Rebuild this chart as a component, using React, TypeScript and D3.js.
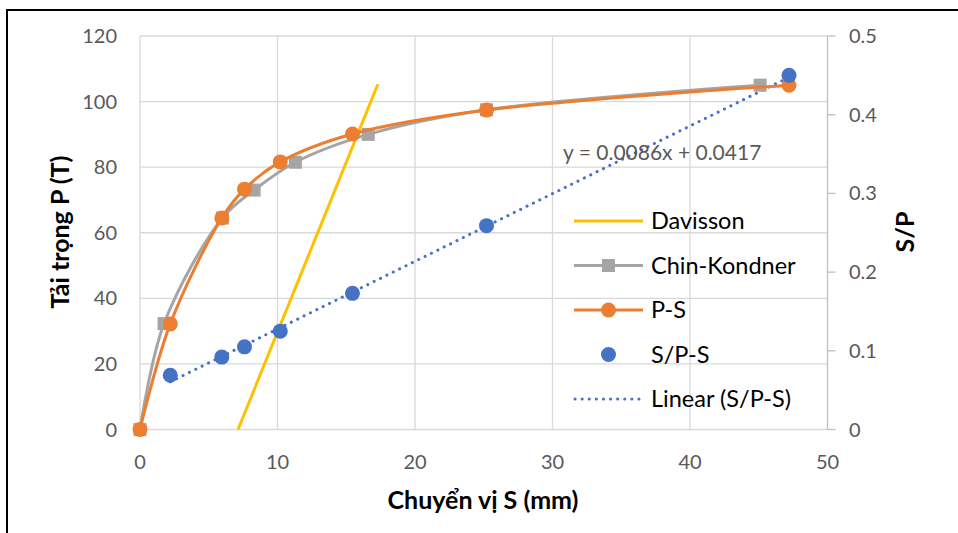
import React, { useEffect, useRef } from 'react';
import * as d3 from 'd3';

// P-S load test data (S in mm, P in T)
const psS = [0, 2.2, 5.95, 7.6, 10.2, 15.45, 25.2, 47.2];
const psP = [0, 32.2, 64.5, 73.3, 81.6, 90.1, 97.4, 105];

// Chin-Kondner fitted curve
const ckS = [0, 1.75, 6.0, 8.3, 11.3, 16.6, 25.2, 45.1];
const ckP = [0, 32.3, 64.5, 73.0, 81.5, 90.0, 97.5, 105];

// S/P vs S (right axis)
const spS = [2.2, 5.95, 7.6, 10.2, 15.45, 25.2, 47.2];
const spV = [0.069, 0.092, 0.105, 0.125, 0.173, 0.259, 0.45];

// Davisson line end points
const davS = [7.13, 17.3];
const davP = [0, 105.3];

// linear trend of S/P-S
const trendSlope = 0.0086;
const trendIntercept = 0.0417;
const trendLabel = 'y = 0.0086x + 0.0417';

const xTicks = [0, 10, 20, 30, 40, 50];
const yTicks = [0, 20, 40, 60, 80, 100, 120];
const y2Ticks = [0, 0.1, 0.2, 0.3, 0.4, 0.5];

const legendItems = ['Davisson', 'Chin-Kondner', 'P-S', 'S/P-S', 'Linear (S/P-S)'];

const FONT = 'Lato, "Open Sans", sans-serif';

const App = () => {
  const ref = useRef<SVGSVGElement>(null);

  useEffect(() => {
    document.body.style.margin = '0';
    const svg = d3.select(ref.current);
    svg.selectAll('*').remove();

    const x = d3.scaleLinear().domain([0, 50]).range([140, 827.5]);
    const y = d3.scaleLinear().domain([0, 120]).range([429.5, 36]);
    const y2 = d3.scaleLinear().domain([0, 0.5]).range([429.5, 36]);

    svg.append('rect').attr('width', 958).attr('height', 533).attr('fill', '#fff');

    // outer frame (top + left only visible)
    svg.append('line').attr('x1', 7).attr('x2', 958).attr('y1', 10).attr('y2', 10)
      .attr('stroke', '#000').attr('stroke-width', 2);
    svg.append('line').attr('x1', 7).attr('x2', 7).attr('y1', 9).attr('y2', 533)
      .attr('stroke', '#000').attr('stroke-width', 2);

    // grid
    const grid = svg.append('g').attr('stroke', '#d9d9d9').attr('stroke-width', 1.3);
    xTicks.slice(0, -1).forEach(t => {
      grid.append('line').attr('x1', x(t)).attr('x2', x(t)).attr('y1', y(120)).attr('y2', y(0));
    });
    yTicks.forEach(t => {
      grid.append('line').attr('x1', x(0)).attr('x2', x(50)).attr('y1', y(t)).attr('y2', y(t));
    });

    // right axis
    const ax = svg.append('g').attr('stroke', '#bfbfbf').attr('stroke-width', 1.3);
    ax.append('line').attr('x1', x(50)).attr('x2', x(50)).attr('y1', y2(0.5)).attr('y2', y2(0));
    y2Ticks.forEach(t => {
      ax.append('line').attr('x1', x(50)).attr('x2', x(50) + 8).attr('y1', y2(t)).attr('y2', y2(t));
    });

    const tickText = svg.append('g').attr('font-family', FONT).attr('font-size', 20).attr('fill', '#595959');
    yTicks.forEach(t => {
      tickText.append('text').attr('x', 117).attr('y', y(t)).attr('dy', '0.35em')
        .attr('text-anchor', 'end').text(t);
    });
    xTicks.forEach(t => {
      tickText.append('text').attr('x', x(t)).attr('y', 462).attr('dy', '0.35em')
        .attr('text-anchor', 'middle').text(t);
    });
    y2Ticks.forEach(t => {
      tickText.append('text').attr('x', 849).attr('y', y2(t)).attr('dy', '0.35em')
        .text(d3.format('~g')(t));
    });

    // Davisson line
    svg.append('line')
      .attr('x1', x(davS[0])).attr('y1', y(davP[0]))
      .attr('x2', x(davS[1])).attr('y2', y(davP[1]))
      .attr('stroke', '#ffc000').attr('stroke-width', 3);

    // trend line
    const tx0 = d3.min(spS) as number;
    const tx1 = d3.max(spS) as number;
    svg.append('line')
      .attr('x1', x(tx0)).attr('y1', y2(trendSlope * tx0 + trendIntercept))
      .attr('x2', x(tx1)).attr('y2', y2(trendSlope * tx1 + trendIntercept))
      .attr('stroke', '#4472c4').attr('stroke-width', 3)
      .attr('stroke-dasharray', '0.1 7').attr('stroke-linecap', 'round');

    const line = d3.line<[number, number]>()
      .x(d => x(d[0])).y(d => y(d[1]))
      .curve(d3.curveCatmullRom.alpha(0.5));

    // Chin-Kondner
    const ck = ckS.map((s, i) => [s, ckP[i]] as [number, number]);
    svg.append('path').datum(ck).attr('d', line).attr('fill', 'none')
      .attr('stroke', '#a5a5a5').attr('stroke-width', 3);
    svg.append('g').selectAll('rect').data(ck).join('rect')
      .attr('x', d => x(d[0]) - 6.5).attr('y', d => y(d[1]) - 6.5)
      .attr('width', 13).attr('height', 13).attr('fill', '#a5a5a5');

    // P-S
    const ps = psS.map((s, i) => [s, psP[i]] as [number, number]);
    svg.append('path').datum(ps).attr('d', line).attr('fill', 'none')
      .attr('stroke', '#ed7d31').attr('stroke-width', 3);
    svg.append('g').selectAll('circle').data(ps).join('circle')
      .attr('cx', d => x(d[0])).attr('cy', d => y(d[1])).attr('r', 7.5).attr('fill', '#ed7d31');

    // S/P points
    svg.append('g').selectAll('circle').data(spS).join('circle')
      .attr('cx', (d: number) => x(d)).attr('cy', (_d: number, i: number) => y2(spV[i]))
      .attr('r', 7.5).attr('fill', '#4472c4');

    // equation label
    svg.append('text').attr('x', 563).attr('y', 160)
      .attr('font-family', FONT).attr('font-size', 21).attr('fill', '#595959')
      .text(trendLabel);

    // legend
    const lg = svg.append('g').attr('font-family', FONT).attr('font-size', 23.5).attr('fill', '#000');
    legendItems.forEach((name, i) => {
      const cy = 221 + i * 44.5;
      const g = lg.append('g');
      if (i === 0) {
        g.append('line').attr('x1', 574).attr('x2', 643).attr('y1', cy).attr('y2', cy)
          .attr('stroke', '#ffc000').attr('stroke-width', 3);
      } else if (i === 1) {
        g.append('line').attr('x1', 574).attr('x2', 643).attr('y1', cy).attr('y2', cy)
          .attr('stroke', '#a5a5a5').attr('stroke-width', 3);
        g.append('rect').attr('x', 602).attr('y', cy - 6.5).attr('width', 13).attr('height', 13)
          .attr('fill', '#a5a5a5');
      } else if (i === 2) {
        g.append('line').attr('x1', 574).attr('x2', 643).attr('y1', cy).attr('y2', cy)
          .attr('stroke', '#ed7d31').attr('stroke-width', 3);
        g.append('circle').attr('cx', 608.5).attr('cy', cy).attr('r', 7.5).attr('fill', '#ed7d31');
      } else if (i === 3) {
        g.append('circle').attr('cx', 608.5).attr('cy', cy).attr('r', 7.5).attr('fill', '#4472c4');
      } else {
        g.append('line').attr('x1', 575).attr('x2', 642).attr('y1', cy).attr('y2', cy)
          .attr('stroke', '#4472c4').attr('stroke-width', 3)
          .attr('stroke-dasharray', '0.1 7').attr('stroke-linecap', 'round');
      }
      g.append('text').attr('x', 651).attr('y', cy).attr('dy', '0.35em').text(name);
    });

    // axis titles
    const titles = svg.append('g').attr('font-family', FONT).attr('font-size', 25)
      .attr('font-weight', 'bold').attr('fill', '#000');
    titles.append('text').attr('x', 483).attr('y', 500).attr('dy', '0.35em')
      .attr('text-anchor', 'middle').text('Chuyển vị S (mm)');
    titles.append('text').attr('transform', 'translate(60,232) rotate(-90)').attr('dy', '0.35em')
      .attr('text-anchor', 'middle').text('Tải trọng P (T)');
    titles.append('text').attr('transform', 'translate(905,232) rotate(-90)').attr('dy', '0.35em')
      .attr('text-anchor', 'middle').text('S/P');
  }, []);

  return <svg ref={ref} width={958} height={533} style={{ display: 'block' }} />;
};

export default App;
